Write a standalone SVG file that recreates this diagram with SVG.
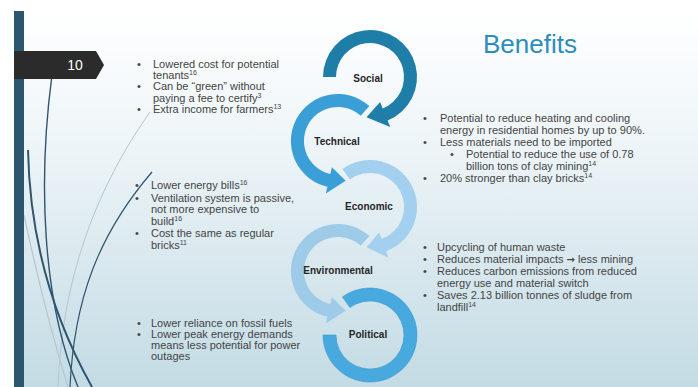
<svg xmlns="http://www.w3.org/2000/svg" width="698" height="387" viewBox="0 0 698 387">
<defs>
<linearGradient id="bg" x1="0" y1="0" x2="0" y2="1">
<stop offset="0" stop-color="#ffffff"/>
<stop offset="0.35" stop-color="#eef5f8"/>
<stop offset="1" stop-color="#c3dbe4"/>
</linearGradient>
<style>
.t{font-family:"Liberation Sans",Arial,sans-serif;font-size:11px;fill:#444444}
.lbl{font-family:"Liberation Sans",Arial,sans-serif;font-size:10px;font-weight:bold;fill:#262626;text-anchor:middle}
.sup{font-size:7px}
.wd{fill:none;stroke:#2f566e}
.wl{fill:none;stroke:#b4c7ce}
</style>
</defs>
<rect width="698" height="387" fill="#ffffff"/>
<rect x="14" y="11" width="684" height="376" fill="url(#bg)"/>
<g id="wisps">
<path class="wl" stroke-width="1" d="M150,112 C95,190 62,280 58,387"/>
<path class="wl" stroke-width="1.2" d="M24,215 C40,290 55,345 68,387"/>
<path class="wd" stroke-width="1.4" d="M52,75 C38,180 42,300 78,387"/>
<path class="wd" stroke-width="2" d="M28,150 C30,250 60,330 92,387"/>
<path class="wd" stroke-width="1.2" d="M70,387 C74,300 98,235 152,172"/>
</g>
<rect x="14" y="11" width="10" height="376" fill="#2c5670"/>
<g id="tab">
<polygon points="14,51 96,51 104,65 96,79 14,79" fill="#2b2b2b"/>
<text x="75" y="70" font-family="Liberation Sans,Arial,sans-serif" font-size="14" fill="#ffffff" text-anchor="middle">10</text>
</g>
<text x="483" y="53" font-family="Liberation Sans,Arial,sans-serif" font-size="26" fill="#2b8dbb">Benefits</text>
<g id="connectors"></g>
<g id="social">
<path fill="#1f7ea8" d="M323,77 A47,47 0 1 1 387.6,120.6 L390.2,127.1 L366.5,117.3 L380.1,102.0 L382.7,108.5 A34,34 0 1 0 336,77 Z"/>
<text class="lbl" x="368" y="82">Social</text>
</g>
<g id="technical">
<path fill="#3b9fd7" d="M369.4,106.1 A47,47 0 1 0 327.4,186.8 L325.8,193.6 L345.7,180.8 L331.9,167.3 L330.3,174.1 A34,34 0 1 1 360.7,115.7 Z"/>
<text class="lbl" x="337" y="145">Technical</text>
</g>
<g id="economic">
<path fill="#a3d0ee" d="M342.4,169.0 A47,47 0 1 1 386.1,251.2 L388.5,257.7 L366.5,247.3 L379.2,232.4 L381.6,238.9 A34,34 0 1 0 350.0,179.5 Z"/>
<text class="lbl" x="369" y="210">Economic</text>
</g>
<g id="environmental">
<path fill="#9ecbe8" d="M369.4,236.1 A47,47 0 1 0 327.4,316.8 L325.8,323.6 L345.7,310.8 L331.9,297.3 L330.3,304.1 A34,34 0 1 1 360.7,245.7 Z"/>
<text class="lbl" x="338" y="274">Environmental</text>
</g>
<g id="political">
<path fill="#47a9de" stroke="#3a98cc" stroke-width="0.6" d="M323,335 A47,47 0 1 0 342.4,297.0 L350.0,307.5 A34,34 0 1 1 336,335 Z"/>
<text class="lbl" x="368" y="338">Political</text>
</g>
<g id="social-notes" class="t">
<text x="137" y="68">•</text><text x="153" y="68">Lowered cost for potential</text>
<text x="153" y="79">tenants<tspan class="sup" dy="-4">16</tspan></text>
<text x="137" y="90">•</text><text x="153" y="90">Can be “green” without</text>
<text x="153" y="101.5">paying a fee to certify<tspan class="sup" dy="-4">3</tspan></text>
<text x="137" y="112.5">•</text><text x="153" y="112.5">Extra income for farmers<tspan class="sup" dy="-4">13</tspan></text>
</g>
<g id="technical-notes" class="t">
<text x="423" y="122">•</text><text x="440" y="122">Potential to reduce heating and cooling</text>
<text x="440" y="134">energy in residential homes by up to 90%.</text>
<text x="423" y="146">•</text><text x="440" y="146">Less materials need to be imported</text>
<text x="450" y="158">•</text><text x="466" y="158">Potential to reduce the use of 0.78</text>
<text x="466" y="169.5">billion tons of clay mining<tspan class="sup" dy="-4">14</tspan></text>
<text x="423" y="181.5">•</text><text x="440" y="181.5">20% stronger than clay bricks<tspan class="sup" dy="-4">14</tspan></text>
</g>
<g id="economic-notes" class="t">
<text x="135" y="189">•</text><text x="151" y="189">Lower energy bills<tspan class="sup" dy="-4">16</tspan></text>
<text x="135" y="201.5">•</text><text x="151" y="201.5">Ventilation system is passive,</text>
<text x="151" y="213">not more expensive to</text>
<text x="151" y="225">build<tspan class="sup" dy="-4">16</tspan></text>
<text x="135" y="237">•</text><text x="151" y="237">Cost the same as regular</text>
<text x="151" y="249">bricks<tspan class="sup" dy="-4">11</tspan></text>
</g>
<g id="environmental-notes" class="t">
<text x="423" y="250.5">•</text><text x="437" y="250.5">Upcycling of human waste</text>
<text x="423" y="263">•</text><text x="437" y="263">Reduces material impacts <tspan font-weight="bold" font-family="DejaVu Sans,sans-serif" font-size="10">→</tspan> less mining</text>
<text x="423" y="275">•</text><text x="437" y="275">Reduces carbon emissions from reduced</text>
<text x="437" y="286.5">energy use and material switch</text>
<text x="423" y="299">•</text><text x="437" y="299">Saves 2.13 billion tonnes of sludge from</text>
<text x="437" y="311">landfill<tspan class="sup" dy="-4">14</tspan></text>
</g>
<g id="political-notes" class="t">
<text x="137" y="326.5">•</text><text x="151" y="326.5">Lower reliance on fossil fuels</text>
<text x="137" y="338">•</text><text x="151" y="338">Lower peak energy demands</text>
<text x="151" y="349">means less potential for power</text>
<text x="151" y="360">outages</text>
</g>
</svg>
